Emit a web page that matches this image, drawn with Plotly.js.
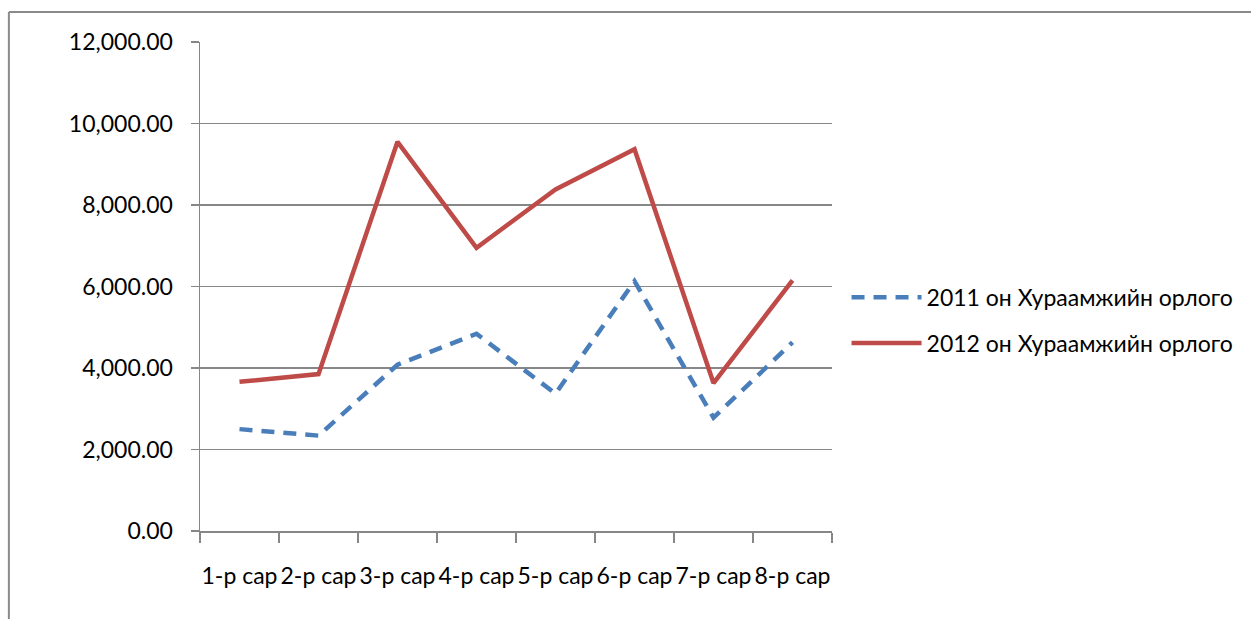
<!DOCTYPE html>
<html>
<head>
<meta charset="utf-8">
<script src="https://cdn.plot.ly/plotly-3.0.1.min.js"></script>
<style>
html,body{margin:0;padding:0;background:#fff;}
#chart{width:1251px;height:619px;}
</style>
</head>
<body>
<div id="chart"></div>
<script>
const categories = ["1-р сар","2-р сар","3-р сар","4-р сар","5-р сар","6-р сар","7-р сар","8-р сар"];
const series2011 = [2500, 2340, 4080, 4840, 3370, 6130, 2780, 4630];
const series2012 = [3660, 3850, 9550, 6950, 8380, 9370, 3630, 6150];
const name2011 = "2011 он Хураамжийн орлого";
const name2012 = "2012 он Хураамжийн орлого";
const yTicks = [0, 2000, 4000, 6000, 8000, 10000, 12000];

const fontFam = "Lato, 'Open Sans', sans-serif";
const grid = "#878787";

const traces = [
  {x: categories, y: series2011, name: name2011, type: "scatter", mode: "lines",
   legendgroup: "a",
   line: {color: "#4A7EBB", width: 4.5, dash: "13px,9px"}},
  {x: categories, y: series2012, name: name2012, type: "scatter", mode: "lines",
   legendgroup: "b",
   line: {color: "#BE4B48", width: 4.5}}
];

const layout = {
  width: 1251, height: 619,
  margin: {l: 200, r: 416, t: 42, b: 88},
  paper_bgcolor: "#fff", plot_bgcolor: "#fff",
  font: {family: fontFam, size: 23, color: "#000"},
  showlegend: true,
  legend: {x: 1.023, xanchor: "left", y: 0.431, yanchor: "middle",
           font: {family: fontFam, size: 23, color: "#000"},
           traceorder: "grouped", tracegroupgap: 13, itemwidth: 70,
           bgcolor: "rgba(0,0,0,0)"},
  xaxis: {type: "category", range: [-0.5, 7.5], tickson: "boundaries", ticks: "outside", ticklen: 10,
          tickangle: 0,
          tickcolor: grid, tickwidth: 1.5, showline: true, linecolor: grid, linewidth: 1.5,
          showgrid: false, zeroline: false, ticklabelstandoff: 24,
          tickfont: {family: fontFam, size: 23, color: "#000"}, fixedrange: true},
  yaxis: {range: [0, 12000], tickvals: yTicks, tickformat: ",.2f", ticks: "outside",
          ticklen: 8, tickcolor: grid, tickwidth: 1.5, showline: true, linecolor: grid, linewidth: 1.5,
          showgrid: true, gridcolor: grid, gridwidth: 1.5, zeroline: false,
          ticklabelstandoff: 13,
          tickfont: {family: fontFam, size: 23, color: "#000"}, fixedrange: true},
  shapes: [
    {type: "line", xref: "paper", yref: "paper", x0: -0.3024, x1: 1.7, y0: 1.0613, y1: 1.0613,
     line: {color: "#8a8a8a", width: 2}},
    {type: "line", xref: "paper", yref: "paper", x0: -0.3024, x1: -0.3024, y0: 1.0613, y1: -0.3,
     line: {color: "#8a8a8a", width: 2}}
  ]
};

Plotly.newPlot("chart", traces, layout, {displayModeBar: false, staticPlot: true});
</script>
</body>
</html>
